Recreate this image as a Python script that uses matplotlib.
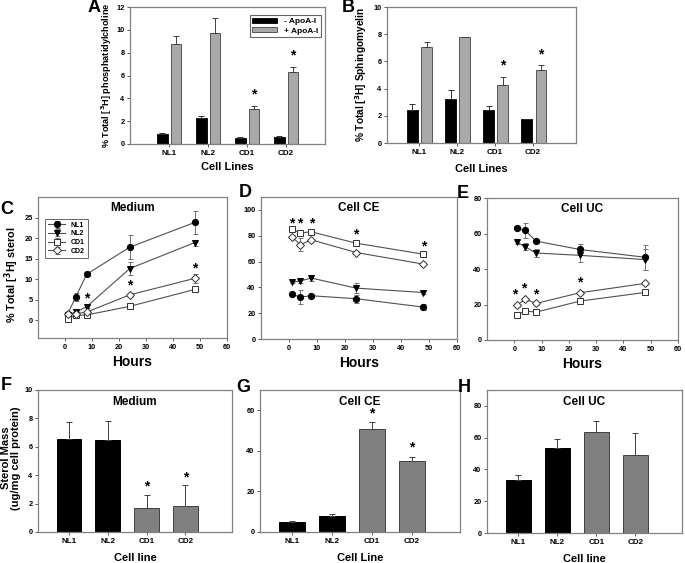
import numpy as np
import matplotlib
matplotlib.use("Agg")
import matplotlib.pyplot as plt

plt.rcParams['font.family'] = ['Liberation Sans', 'DejaVu Sans']
plt.rcParams['font.weight'] = 'bold'

W, H = 685, 563

cells = ["NL1", "NL2", "CD1", "CD2"]

# panel A: phosphatidylcholine efflux
pc_minus = [0.9, 2.25, 0.55, 0.6]
pc_minus_err = [0.08, 0.2, 0.05, 0.06]
pc_plus = [8.75, 9.7, 3.1, 6.35]
pc_plus_err = [0.7, 1.3, 0.25, 0.4]

# panel B: sphingomyelin efflux
sm_minus = [2.4, 3.2, 2.4, 1.75]
sm_minus_err = [0.5, 0.7, 0.35, 0.03]
sm_plus = [7.05, 7.8, 4.3, 5.4]
sm_plus_err = [0.35, 0.03, 0.55, 0.3]

# panels C-E: time courses
hours = [1, 4, 8, 24, 48]
med = {
    "NL1": ([1.6, 5.7, 11.2, 17.8, 23.8], [0.3, 0.9, 0.5, 2.9, 2.8]),
    "NL2": ([1.3, 2.0, 3.3, 12.6, 18.9], [0.2, 0.3, 0.4, 1.5, 0.7]),
    "CD1": ([0.4, 1.2, 1.3, 3.4, 7.5], [0.1, 0.2, 0.2, 0.3, 0.5]),
    "CD2": ([1.6, 1.6, 2.0, 6.2, 10.2], [0.2, 0.2, 0.3, 0.4, 1.0]),
}
cell_ce = {
    "NL1": ([34.8, 32.5, 33.5, 31.2, 24.7], [1.5, 5.5, 1.2, 3.0, 2.5]),
    "NL2": ([44.0, 45.0, 47.2, 39.4, 36.0], [1.0, 1.5, 2.5, 4.0, 1.0]),
    "CD1": ([85.0, 82.2, 83.0, 74.2, 65.7], [1.0, 1.0, 1.0, 1.0, 1.0]),
    "CD2": ([79.4, 73.0, 76.8, 67.0, 58.0], [1.0, 5.0, 1.0, 1.0, 1.0]),
}
cell_uc = {
    "NL1": ([63.2, 61.7, 55.7, 51.0, 46.6], [1.0, 4.0, 1.0, 3.0, 7.0]),
    "NL2": ([55.1, 52.5, 49.0, 47.7, 45.3], [1.0, 2.0, 2.5, 3.5, 6.0]),
    "CD1": ([14.2, 16.4, 15.7, 21.9, 26.8], [1.0, 1.0, 1.0, 0.8, 0.8]),
    "CD2": ([19.6, 23.0, 20.6, 26.6, 31.9], [0.8, 0.8, 0.8, 0.8, 0.8]),
}
med_stars = ([8, 24, 48], [5.2, 8.4, 12.6])
ce_stars = ([1, 4, 8, 24, 48], [89.7, 89.7, 89.7, 81.0, 71.6])
uc_stars = ([0, 3.5, 8, 24], [25.8, 29.2, 25.8, 32.5])

# panels F-H: sterol mass
mass_med = [6.55, 6.45, 1.72, 1.85]
mass_med_err = [1.2, 1.4, 0.92, 1.45]
mass_ce = [4.7, 7.8, 50.7, 35.2]
mass_ce_err = [0.7, 1.3, 3.3, 2.0]
mass_uc = [33.3, 53.7, 63.8, 49.0]
mass_uc_err = [3.1, 5.3, 6.7, 14.2]

spine_col = "#808080"
light_gray = "#a9a9a9"
mid_gray = "#808080"

fig = plt.figure(figsize=(W / 100, H / 100), dpi=100)


def px_axes(l, t, r, b):
    ax = fig.add_axes([l / W, 1 - b / H, (r - l) / W, (b - t) / H])
    for s in ax.spines.values():
        s.set_color(spine_col)
        s.set_linewidth(0.9)
    ax.tick_params(labelsize=5.3, length=2, width=0.6, color="#404040", pad=2)
    for lab in ax.get_xticklabels() + ax.get_yticklabels():
        lab.set_fontweight("bold")
    return ax


def letter(x, y, s):
    fig.text(x / W, 1 - y / H, s, fontsize=13, fontweight="bold", va="center", ha="center")


x = np.arange(1, 5)

# ---- A
ax = px_axes(130, 7, 325, 144)
ax.bar(x - 0.17, pc_minus, 0.27, color="black", edgecolor="black", linewidth=0.6,
       yerr=[np.zeros(4), pc_minus_err], error_kw=dict(ecolor="#303030", capsize=2, elinewidth=0.7, capthick=0.7),
       label="- ApoA-I")
ax.bar(x + 0.18, pc_plus, 0.28, color=light_gray, edgecolor="#404040", linewidth=0.6,
       yerr=[np.zeros(4), pc_plus_err], error_kw=dict(ecolor="#404040", capsize=2, elinewidth=0.7, capthick=0.7),
       label="+ ApoA-I")
for i in [2, 3]:
    ax.text(x[i] + 0.18, pc_plus[i] + pc_plus_err[i] + 0.35, "*", ha="center", va="bottom", fontsize=10, fontweight="bold")
ax.set_xlim(0, 5)
ax.set_ylim(0, 12)
ax.set_yticks(range(0, 13, 2))
ax.set_xticks(x)
ax.set_xticklabels(cells, fontsize=5.8, fontweight="bold")
ax.set_xlabel("Cell Lines", fontsize=8, fontweight="bold", labelpad=4)
ax.set_ylabel("% Total [$^3$H] phosphatidylcholine", fontsize=6.6, fontweight="bold")
ax.yaxis.set_label_coords(-0.08, 0.5)
leg = ax.legend(loc="upper right", fontsize=6, frameon=True, fancybox=False, handlelength=3,
                handleheight=0.6, borderpad=0.3, labelspacing=0.2, bbox_to_anchor=(1.0, 0.97))
leg.get_frame().set_edgecolor("#404040")
leg.get_frame().set_linewidth(0.8)
letter(94, 8, "A")

# ---- B
ax = px_axes(387, 7, 576, 143)
ax.bar(x - 0.17, sm_minus, 0.28, color="black", edgecolor="black", linewidth=0.6,
       yerr=[np.zeros(4), sm_minus_err], error_kw=dict(ecolor="#303030", capsize=2, elinewidth=0.7, capthick=0.7))
ax.bar(x + 0.2, sm_plus, 0.27, color=light_gray, edgecolor="#404040", linewidth=0.6,
       yerr=[np.zeros(4), sm_plus_err], error_kw=dict(ecolor="#404040", capsize=2, elinewidth=0.7, capthick=0.7))
for i in [2, 3]:
    ax.text(x[i] + 0.2, sm_plus[i] + sm_plus_err[i] + 0.3, "*", ha="center", va="bottom", fontsize=10, fontweight="bold")
ax.set_xlim(0.16, 5.13)
ax.set_ylim(0, 10)
ax.set_yticks(range(0, 11, 2))
ax.set_xticks(x)
ax.set_xticklabels(cells, fontsize=5.8, fontweight="bold")
ax.set_xlabel("Cell Lines", fontsize=8, fontweight="bold", labelpad=6)
ax.set_ylabel("% Total [$^3$H] Sphingomyelin", fontsize=7.3, fontweight="bold", labelpad=3)
letter(348, 8, "B")

# ---- C, D, E
styles = {
    "NL1": dict(marker="o", mfc="black", mec="black"),
    "NL2": dict(marker="v", mfc="black", mec="black"),
    "CD1": dict(marker="s", mfc="white", mec="#303030"),
    "CD2": dict(marker="D", mfc="white", mec="#303030", ms=4),
}


def time_panel(ax, data, stars, ylim, yticks, title):
    for k in cells:
        y, e = data[k]
        st = dict(styles[k])
        ms = st.pop("ms", 4.5)
        ax.errorbar(hours, y, yerr=e, color="#505050", lw=0.8, ecolor="#707070", elinewidth=0.7,
                    capsize=1.8, capthick=0.7, ms=ms, mew=0.7, label=k, **st)
    for sx, sy in zip(*stars):
        ax.text(sx, sy, "*", ha="center", va="center", fontsize=10, fontweight="bold")
    ax.set_xlim(-10, 60)
    ax.set_xticks(range(0, 61, 10))
    ax.set_ylim(*ylim)
    ax.set_yticks(yticks)
    ax.set_xlabel("Hours", fontsize=10, fontweight="bold", labelpad=3)
    ax.text(0.5, 0.965, title, transform=ax.transAxes, ha="center", va="top", fontsize=8.5, fontweight="bold")


ax = px_axes(38, 197, 227, 338)
time_panel(ax, med, med_stars, (-4.3, 30), range(0, 26, 5), "Medium")
ax.set_ylabel("% Total [$^3$H] sterol", fontsize=7.8, fontweight="bold")
ax.yaxis.set_label_coords(-0.09, 0.45)
leg = ax.legend(loc="upper left", fontsize=5, frameon=True, fancybox=False, handlelength=2.5,
                borderpad=0.4, labelspacing=0.25, bbox_to_anchor=(0.02, 0.87))
leg.get_frame().set_edgecolor("#404040")
leg.get_frame().set_linewidth(0.7)
letter(7, 210, "C")

ax = px_axes(261, 197, 457, 339)
time_panel(ax, cell_ce, ce_stars, (0, 110), range(0, 101, 20), "Cell CE")
letter(245, 192, "D")

ax = px_axes(487, 198, 678, 340)
time_panel(ax, cell_uc, uc_stars, (0, 80), range(0, 81, 20), "Cell UC")
letter(463, 193, "E")

# ---- F, G, H
bar_cols = ["black", "black", mid_gray, mid_gray]


def mass_panel(ax, vals, errs, ylim, yticks, title, xlabel, star_idx, star_off):
    for i in range(4):
        ec = "black" if i < 2 else "#404040"
        ax.bar(x[i], vals[i], 0.64, color=bar_cols[i], edgecolor=ec, linewidth=0.7,
               yerr=[[0], [errs[i]]], error_kw=dict(ecolor="#404040", capsize=2, elinewidth=0.7, capthick=0.7))
    for i in star_idx:
        ax.text(x[i], vals[i] + errs[i] + star_off, "*", ha="center", va="center", fontsize=10, fontweight="bold")
    ax.set_xlim(0.2, 5.2)
    ax.set_ylim(*ylim)
    ax.set_yticks(yticks)
    ax.set_xticks(x)
    ax.set_xticklabels(cells, fontsize=5.8, fontweight="bold")
    ax.set_xlabel(xlabel, fontsize=8, fontweight="bold", labelpad=6)
    ax.text(0.5, 0.96, title, transform=ax.transAxes, ha="center", va="top", fontsize=8.5, fontweight="bold")


ax = px_axes(38, 390, 232, 532)
mass_panel(ax, mass_med, mass_med_err, (0, 10), range(0, 11, 2), "Medium", "Cell line", [2, 3], 0.55)
ax.set_ylabel("Sterol Mass\n(ug/mg cell protein)", fontsize=8, fontweight="bold", linespacing=1.0)
ax.yaxis.set_label_coords(-0.088, 0.52)
letter(6, 385, "F")

ax = px_axes(260, 390, 460, 532)
mass_panel(ax, mass_ce, mass_ce_err, (0, 70), range(0, 61, 20), "Cell CE", "Cell Line", [2, 3], 4.5)
letter(243, 388, "G")

ax = px_axes(487, 390, 682, 533)
mass_panel(ax, mass_uc, mass_uc_err, (0, 90), range(0, 81, 20), "Cell UC", "Cell line", [], 0)
letter(464, 388, "H")

fig.savefig("out.png", dpi=100)
